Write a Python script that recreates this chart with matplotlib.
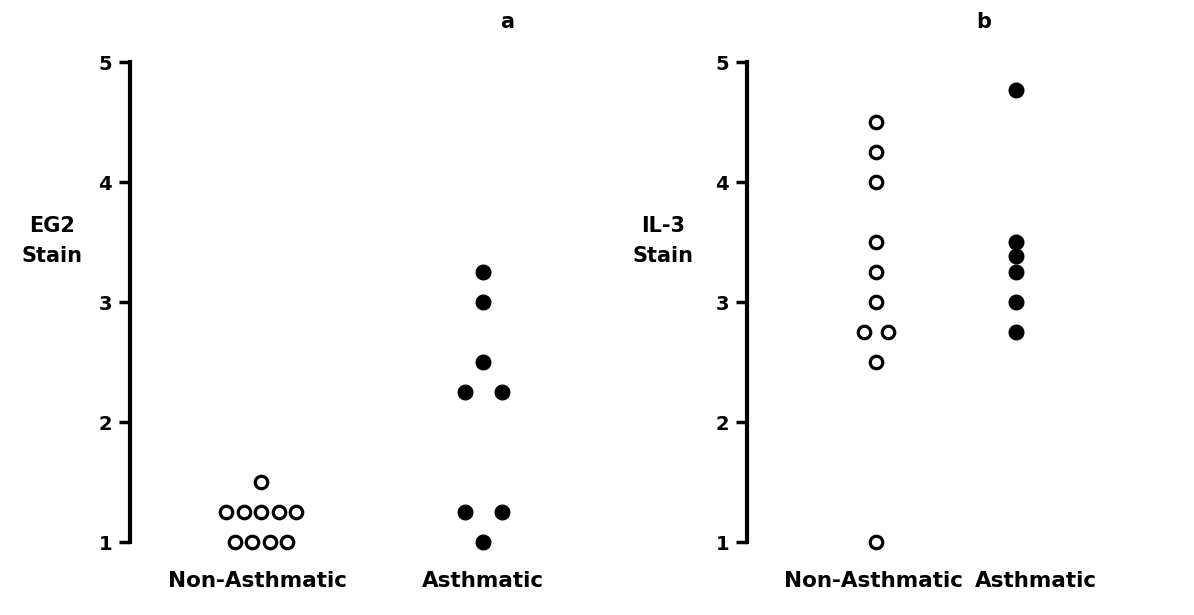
import numpy as np
import matplotlib
matplotlib.use('Agg')
import matplotlib.pyplot as plt
import matplotlib.transforms as mtransforms

groups = ['Non-Asthmatic', 'Asthmatic']

# stain scores
eg2_non = [1.0, 1.0, 1.0, 1.0, 1.25, 1.25, 1.25, 1.25, 1.25, 1.5]
eg2_asth = [3.25, 3.0, 2.5, 2.25, 2.25, 1.25, 1.25, 1.0]
il3_non = [4.5, 4.25, 4.0, 3.5, 3.25, 3.0, 2.75, 2.75, 2.5, 1.0]
il3_asth = [4.77, 3.5, 3.38, 3.25, 3.0, 2.75]

plt.rcParams['font.family'] = ['DejaVu Sans']
plt.rcParams['font.weight'] = 'bold'


def spread(values, center, step):
    """side-by-side positions for tied values (dot plot style)"""
    values = np.asarray(values)
    xs = np.zeros(len(values))
    for v in np.unique(values):
        idx = np.where(values == v)[0]
        n = len(idx)
        xs[idx] = center + (np.arange(n) - (n - 1) / 2) * step
    return xs


def dotpanel(ax, non, asth, steps, ylabel, xlim, label_shift):
    x_non = spread(non, 1, steps[0])
    x_asth = spread(asth, 2, steps[1])
    ax.plot(x_non, non, 'o', ms=9, mfc='white', mec='black', mew=2.3,
            ls='none', clip_on=False)
    ax.plot(x_asth, asth, 'o', ms=10.5, color='black', ls='none', clip_on=False)

    ax.set_xlim(*xlim)
    ax.set_ylim(1, 5)
    ax.set_yticks([1, 2, 3, 4, 5])
    ax.set_xticks([])
    ax.tick_params(axis='y', length=8, width=2.5, pad=5, labelsize=14)
    for s in ['top', 'right', 'bottom']:
        ax.spines[s].set_visible(False)
    ax.spines['left'].set_linewidth(3)
    ax.set_ylabel(ylabel, rotation=0, fontsize=15, fontweight='bold',
                  linespacing=1.6, ha='center', va='center')

    # group names under the columns
    trans = mtransforms.blended_transform_factory(ax.transData, ax.transAxes)
    for i, name in enumerate(groups):
        ax.text(i + 1 + label_shift[i], -39 / 480, name, transform=trans,
                ha='center', va='center', fontsize=15.5, fontweight='bold')


fig = plt.figure(figsize=(11.94, 6.15), dpi=100)
W, H = 1194, 615

# panel a: spine at x=130 px, categories at 261 and 483 px
ax1 = fig.add_axes([130 / W, 1 - 542 / H, 470 / W, 480 / H])
dotpanel(ax1, eg2_non, eg2_asth, (17.5 / 222, 37 / 222), 'EG2\nStain',
         (1 - 131 / 222, 1 - 131 / 222 + 470 / 222), (-3 / 222, 0))
ax1.yaxis.set_label_coords(-78 / 470, (542 - 241) / 480)

# panel b: spine at x=747 px, categories at 876 and 1016 px
ax2 = fig.add_axes([747 / W, 1 - 542 / H, 440 / W, 480 / H])
dotpanel(ax2, il3_non, il3_asth, (24 / 140, 24 / 140), 'IL-3\nStain',
         (1 - 129 / 140, 1 - 129 / 140 + 440 / 140), (-2 / 140, 20 / 140))
ax2.yaxis.set_label_coords(-84 / 440, (542 - 241) / 480)

fig.text(507 / W, 1 - 22 / H, 'a', fontsize=15, fontweight='bold',
         ha='center', va='center')
fig.text(984 / W, 1 - 22 / H, 'b', fontsize=15, fontweight='bold',
         ha='center', va='center')

fig.savefig('out.png', dpi=100)
